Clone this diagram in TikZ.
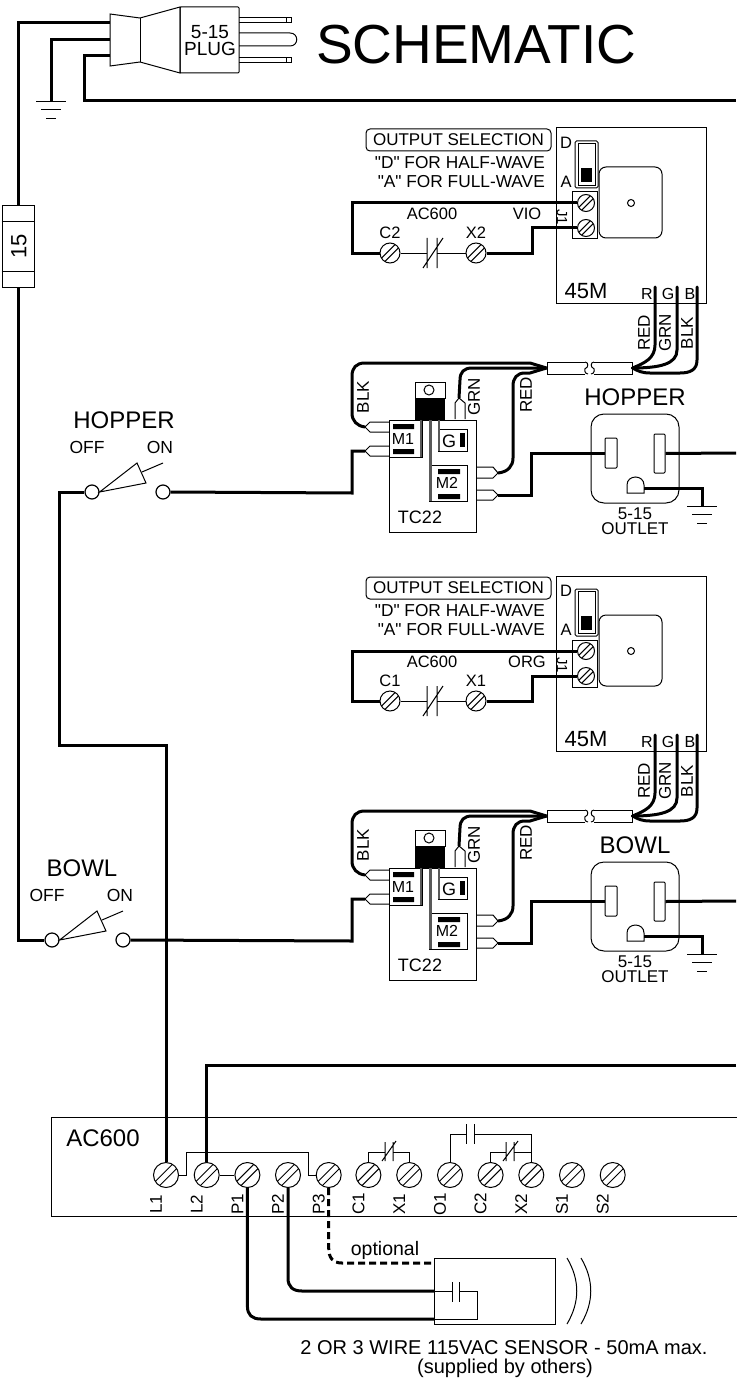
\documentclass[tikz,border=0pt]{standalone}
\usepackage{fontspec}
\usetikzlibrary{calc}
\setmainfont{Liberation Sans}
\newfontfamily\lblfont{Liberation Sans}
\tikzset{
  wire/.style={line width=3pt,line join=miter},
  dwire/.style={line width=3pt,dash pattern=on 7pt off 4pt},
  thin line/.style={line width=1pt,line join=miter},
  box/.style={line width=1pt,fill=white},
  term/.style={circle,draw,line width=1pt,fill=white,inner sep=0pt},
  swc/.style={circle,draw,line width=1.2pt,fill=white,inner sep=0pt,minimum size=14pt},
  lab/.style={inner sep=0pt,font=\lblfont\fontsize{#1}{#1}\selectfont},
  lab/.default=16,
}
% screw terminal: name, x, y, radius
\newcommand\screwterm[4]{%
  \node[term,minimum size=#4*2pt] (#1) at (#2,#3) {};
  \pgfmathsetmacro\scd{#4*0.17}%
  \pgfmathsetmacro\scl{#4*0.68}%
  \draw[thin line] ($(#1.center)+(\scd-\scl,\scd+\scl)$) -- ($(#1.center)+(\scd+\scl,\scd-\scl)$);
  \draw[thin line] ($(#1.center)+(-\scd-\scl,-\scd+\scl)$) -- ($(#1.center)+(-\scd+\scl,-\scd-\scl)$);
}
\newcommand\groundsym[1]{%
  \draw[thin line] ($(#1)+(-15,0)$) -- ($(#1)+(15,0)$);
  \draw[thin line] ($(#1)+(-10,8)$) -- ($(#1)+(10,8)$);
  \draw[thin line] ($(#1)+(-5,17)$) -- ($(#1)+(5,17)$);
}
% a 45M + TC22 + outlet group
\newcommand\unitblock[6]{%
\begin{scope}[shift={(0,#2)},name prefix=#1-]
  % 45M
  \node[draw,line width=1pt,inner sep=0pt,minimum width=150pt,minimum height=175pt] (m45) at (631,215.5) {};
  \node[draw,line width=1pt,rounded corners=1.5pt,inner sep=0pt,minimum width=23pt,minimum height=47pt] (sw) at (586.5,164.5) {};
  \node[draw,line width=1pt,inner sep=0pt,minimum width=17pt,minimum height=42pt] (swi) at (586.5,164.5) {};
  \node[fill=black,inner sep=0pt,minimum width=11pt,minimum height=14pt] (swb) at (586.5,175) {};
  \node[draw,line width=1pt,rounded corners=7pt,inner sep=0pt,minimum width=63pt,minimum height=71pt] (rel) at (630.5,202.5) {};
  \node[circle,draw,line width=1pt,inner sep=0pt,minimum size=7pt] (relc) at (631,203) {};
  \node[draw,line width=1pt,inner sep=0pt,minimum width=25pt,minimum height=47pt] (j1) at (584.5,215.5) {};
  \screwterm{j1a}{586}{203}{8.5}
  \screwterm{j1b}{586}{228}{8.5}
  \node[lab=16.5] (d) at (566,143) {D};
  \node[lab=16.5] (a) at (566,182) {A};
  \node[lab=15,rotate=-90] (j1t) at (562,217) {J1};
  \node[draw,line width=1pt,rounded corners=4pt,inner sep=0pt,minimum width=185pt,minimum height=22pt,lab=17] (os) at (458.5,140) {OUTPUT SELECTION};
  \node[lab=17.3,anchor=east] (l1) at (545,163) {"D" FOR HALF-WAVE};
  \node[lab=17.3,anchor=east] (l2) at (545,182) {"A" FOR FULL-WAVE};
  \node[lab=16.5] (ac) at (432,214) {AC600};
  \node[lab=16.5] (vio) at (527,214) {#3};
  \node[lab=16.5] (ct) at (390,233) {#4};
  \node[lab=16.5] (xt) at (476,233) {#5};
  \screwterm{c}{390}{253}{10}
  \screwterm{x}{476}{253}{10}
  \draw[wire] (j1a.west) -- (352,203) -- (352,253) -- (c.west);
  \draw[wire] (x.east) -- (532,253) -- (532,228) -- (j1b.west);
  \draw[thin line] (c.east) -- (427,253) (437,253) -- (x.west);
  \draw[thin line] (427,238) -- (427,268) (437,238) -- (437,268) (423,268) -- (443,238);
  \node[lab=22] (name) at (586,291) {45M};
  \node[lab=16] (rl) at (647,294) {R};
  \node[lab=16] (gl) at (668,294) {G};
  \node[lab=16] (bl) at (690,294) {B};
  \node[lab=17,rotate=90] (redt) at (644,333) {RED};
  \node[lab=17,rotate=90] (grnt) at (665,333) {GRN};
  \node[lab=17,rotate=90] (blkt) at (687,333) {BLK};
  \coordinate (rs) at (655,287);
  \coordinate (gs) at (677,287);
  \coordinate (bs) at (697,287);
  % cable
  \node[inner sep=0pt,minimum width=41pt,minimum height=12pt,draw,line width=1pt,fill=white] (tb1) at (567.5,368) {};
  \node[inner sep=0pt,minimum width=41pt,minimum height=12pt,draw,line width=1pt,fill=white] (tb2) at (611.5,368) {};
  \fill[white] (585,361) rectangle (594,375);
  \draw[thin line] (585,362) .. controls (589,362) and (588,368) .. (586,368) .. controls (584,368) and (584,374) .. (588,374);
  \draw[thin line] (594,362) .. controls (590,362) and (591,368) .. (593,368) .. controls (595,368) and (595,374) .. (591,374);
  \draw[wire,line cap=round] (rs) -- (655,345) .. controls (655,358) and (645,363) .. (tb2.east);
  \draw[wire,line cap=round] (gs) -- (677,350) .. controls (677,364) and (660,368) .. (tb2.east);
  \draw[wire,line cap=round] (bs) -- (697,360) .. controls (697,370) and (690,373) .. (680,373) -- (650,373) .. controls (642,373) and (638,371) .. (tb2.east);
  % TC22
  \node[draw,line width=1pt,inner sep=0pt,minimum width=87pt,minimum height=112pt,fill=white] (tc) at (432.5,476) {};
  \node[box,draw,inner sep=0pt,minimum width=33pt,minimum height=37pt] (m1) at (405.5,438.5) {};
  \draw[line width=2.5pt,gray!70!black] (421,420) -- (421,457);
  \node[box,draw,inner sep=0pt,minimum width=29pt,minimum height=22pt] (g) at (452.5,440) {};
  \node[box,draw,inner sep=0pt,minimum width=38pt,minimum height=36pt] (m2) at (448,483) {};
  \draw[line width=2.5pt,gray!70!black] (430.5,420) -- (430.5,501);
  \draw[line width=2.5pt,gray!70!black] (439,420) -- (439,451);
  \node[box,draw,inner sep=0pt,minimum width=30pt,minimum height=16pt] (tab) at (430,390) {};
  \node[circle,draw,line width=1pt,inner sep=0pt,minimum size=10pt] (tabc) at (429,390) {};
  \node[fill=black,inner sep=0pt,minimum width=30pt,minimum height=22pt] (body) at (430,409) {};
  \fill (393,424) rectangle (414,429) (393,449) rectangle (414,454);
  \fill (460,433) rectangle (465,447);
  \fill (438,469) rectangle (460,474) (438,494) rectangle (460,499);
  \node[lab=16] (m1t) at (403,439) {M1};
  \node[lab=18] (gt) at (449,441) {G};
  \node[lab=16] (m2t) at (447,483) {M2};
  \node[lab=18] (tct) at (420,517) {TC22};
  % spades
  \coordinate (sp1) at (365,427);
  \coordinate (sp2) at (365,451);
  \coordinate (sp3) at (459,398);
  \coordinate (sp4) at (498,473);
  \coordinate (sp5) at (498,495);
  \draw[thin line] (389,422) -- (370,422) -- (sp1) -- (370,432) -- (389,432);
  \draw[thin line] (389,446) -- (370,446) -- (sp2) -- (370,456) -- (389,456);
  \draw[thin line] (455,419) -- (455,403) -- (sp3) -- (465,403) -- (465,419);
  \draw[thin line] (476,467) -- (493,467) -- (sp4) -- (493,478) -- (476,478);
  \draw[thin line] (476,490) -- (493,490) -- (sp5) -- (493,500) -- (476,500);
  \node[lab=17,rotate=90] (t1) at (363,397) {BLK};
  \node[lab=17,rotate=90] (t2) at (474,397) {GRN};
  \node[lab=17,rotate=90] (t3) at (526,395) {RED};
  \draw[wire] (tb1.west) -- (530,363) -- (365,363) .. controls (356,363) and (352,368) .. (352,376) -- (352,413) .. controls (352,421) and (357,426) .. (sp1);
  \draw[wire] (tb1.west) -- (530,368) -- (472,368) .. controls (464,368) and (460,372) .. (460,380) -- (sp3);
  \draw[wire] (tb1.west) -- (530,373) -- (525,373) .. controls (517,373) and (513,378) .. (513,386) -- (513,458) .. controls (513,466) and (508,472) .. (sp4);
  % outlet
  \node[draw,line width=1pt,rounded corners=13pt,inner sep=0pt,minimum width=88pt,minimum height=89pt,fill=white] (ol) at (635,458.5) {};
  \node[draw,line width=1pt,inner sep=0pt,rounded corners=1pt,minimum width=12pt,minimum height=30pt] (lslot) at (611,453) {};
  \node[draw,line width=1pt,inner sep=0pt,rounded corners=1pt,minimum width=11pt,minimum height=39pt] (rslot) at (659.5,453.5) {};
  \draw[thin line,fill=white] (627,493) -- (627,485) .. controls (627,480) and (631,477) .. (635.5,477) .. controls (640,477) and (644,480) .. (644,485) -- (644,493) -- cycle;
  \coordinate (gh) at (644,488);
  \coordinate (gp) at (702,506);
  \draw[wire] (gh) -| (gp);
  \groundsym{gp}
  \draw[wire] (sp5) -- (531,495) -- (531,453) -- (lslot.west);
  \draw[wire] (rslot.east) -- (736,453);
  \node[lab=24] (ot) at (635,397) {#6};
  \node[lab=17] (o1) at (635,514) {5-15};
  \node[lab=17] (o2) at (635,529) {OUTLET};
\end{scope}}
\newcommand\switchblock[4]{%
\begin{scope}[shift={(#2,#3)},name prefix=#1-]
  \node[swc] (off) at (92,492) {};
  \node[swc] (on) at (163,492) {};
  \draw[thin line] (off.east) -- (137,463) -- (146,483) -- cycle;
  \draw[thin line] (142,472) -- (163,463);
  \node[lab=17.5] (oft) at (87,447) {OFF};
  \node[lab=17.5] (ont) at (160,447) {ON};
  \node[lab=24] (nm) at (#4,420) {\switchname};
\end{scope}}
\begin{document}
\begin{tikzpicture}[x=1pt,y=-1pt]
\useasboundingbox (0,0) rectangle (736,1380);
\fill[white] (0,0) rectangle (736,1380);
% plug
\draw[box,line join=miter] (110,14) -- (140,18) -- (180,7) -- (180,73) -- (140,62) -- (110,66) -- cycle;
\draw[thin line] (140,18) -- (140,62);
\draw[thin line] (239,18) -- (291,18) -- (291,23) -- (239,23);
\draw[thin line] (286,18) -- (286,23);
\draw[thin line] (239,58) -- (291,58) -- (291,63) -- (239,63);
\draw[thin line] (286,58) -- (286,63);
\draw[thin line] (239,33) -- (290,33) .. controls (299,33) and (299,46) .. (290,46) -- (239,46);
\node[draw,line width=1pt,rounded corners=1pt,inner sep=0pt,minimum width=59pt,minimum height=66pt] (plug) at (209.5,40) {};
\node[lab=19] (p1) at (210,32) {5-15};
\node[lab=19] (p2) at (210,49) {PLUG};
\node[lab=55,anchor=west] (title) at (316,45) {SCHEMATIC};
\coordinate (pa) at (110,23);
\coordinate (pb) at (110,40);
\coordinate (pc) at (110,56);
\coordinate (gtop) at (51,102);
\draw[wire] (pb) -| (gtop);
\groundsym{gtop}
\draw[wire] (pc) -- (84,56) -- (84,101) -- (736,101);
% fuse
\node[draw,line width=1pt,inner sep=0pt,minimum width=32pt,minimum height=81pt] (fuse) at (18,246.5) {};
\draw[thin line] (fuse.west |- 0,222) -- (fuse.east |- 0,222) (fuse.west |- 0,271) -- (fuse.east |- 0,271);
\node[lab=22,rotate=90] (f15) at (19,246) {15};
\draw[wire] (pa) -- (18,23) -- (fuse.north);
% units
\unitblock{hop}{0}{VIO}{C2}{X2}{HOPPER}
\unitblock{bow}{448}{ORG}{C1}{X1}{BOWL}
% switches
\def\switchname{HOPPER}\switchblock{hsw}{0}{0}{124}
\def\switchname{BOWL}\switchblock{bsw}{-40}{448}{122}
% AC600
\node[draw,line width=1pt,inner sep=0pt,minimum width=690pt,minimum height=99pt,anchor=north west] (ac) at (51,1117) {};
\node[lab=24] (act) at (103,1138) {AC600};
\foreach \nm/\xx/\tl in {L1/166/L1,L2/206.7/L2,P1/247.4/P1,P2/288/P2,P3/328.7/P3,C1/368.4/C1,X1/409.2/X1,O1/450/O1,C2/490.6/C2,X2/531.3/X2,S1/572/S1,S2/612.7/S2}{
  \screwterm{t\nm}{\xx}{1175}{12.5}
  \node[lab=17,rotate=90] (lb\nm) at (\xx-10,1204) {\tl};
}
\draw[thin line] (tL1.east) -- (186,1175) -- (186,1152) -- (308,1152) -- (308,1175) -- (tP3.west);
\draw[thin line] (tL2.east) -- (tP1.west);
\draw[thin line] (tC1.north) -- (368.4,1152) -- (385,1152) (393,1152) -- (409.2,1152) -- (tX1.north);
\draw[thin line] (385,1142) -- (385,1161) (393,1142) -- (393,1161) (382,1161) -- (396,1141);
\draw[thin line] (tC2.north) -- (490.6,1152) -- (506,1152) (514,1152) -- (531.3,1152);
\draw[thin line] (506,1142) -- (506,1161) (514,1142) -- (514,1161) (503,1161) -- (518,1141);
\draw[thin line] (tO1.north) -- (450,1134) -- (466,1134) (474,1134) -- (531.3,1134) -- (tX2.north);
\draw[thin line] (466,1124) -- (466,1144) (474,1124) -- (474,1144);
% power wires
\draw[wire] (fuse.south) -- (18,940) -- (bsw-off.west);
\draw[wire] (hsw-off.west) -- (59,492) -- (59,745) -- (166,745) -- (tL1.north);
\draw[wire] (hsw-on.east) -- (352,493) -- (352,451) -- (hop-sp2);
\draw[wire] (bsw-on.east) -- (352,941) -- (352,899) -- (bow-sp2);
\draw[wire] (736,1065) -- (206.7,1065) -- (tL2.north);
% sensor
\node[draw,line width=1pt,inner sep=0pt,minimum width=121pt,minimum height=66pt] (sens) at (494.5,1291) {};
\coordinate (sa) at (434,1263);
\coordinate (sb) at (434,1291);
\coordinate (sc) at (434,1319);
\draw[dwire] (tP3.south) -- (328.7,1248) .. controls (328.7,1258) and (333,1263) .. (342,1263) -- (sa);
\draw[wire] (tP2.south) -- (288,1278) .. controls (288,1287) and (293,1291) .. (302,1291) -- (sb);
\draw[wire] (tP1.south) -- (247.4,1306) .. controls (247.4,1315) and (252,1319) .. (261,1319) -- (sc);
\draw[thin line] (sb) -- (452,1291) (459,1291) -- (477,1291) -- (477,1319) -- (sc);
\draw[thin line] (452,1282) -- (452,1302) (459,1282) -- (459,1302);
\draw[thin line] (567,1258) .. controls (580,1280) and (580,1302) .. (567,1324);
\draw[thin line] (581,1258) .. controls (594,1280) and (594,1302) .. (581,1324);
\node[lab=19.5] (opt) at (385,1250) {optional};
\node[lab=20] (s1) at (504,1348) {2 OR 3 WIRE 115VAC SENSOR - 50mA max.};
\node[lab=20] (s2) at (505,1368) {(supplied by others)};
\end{tikzpicture}
\end{document}
